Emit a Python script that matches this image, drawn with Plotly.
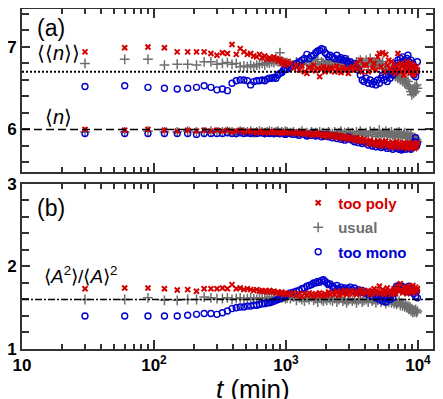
import plotly.graph_objects as go

# --- data ---
t_min = [30, 60, 90, 120, 150, 180, 210, 240, 270, 300,
         330, 360, 390, 420, 450, 480, 510, 540, 570, 600, 630, 660,
         690, 720, 750, 780, 810, 840, 870, 900, 930, 960, 990, 1020,
         1080, 1140, 1200, 1260, 1320, 1380, 1440, 1500, 1560, 1620,
         1680, 1740, 1800, 1860, 1920, 1980, 2040, 2100, 2160,
         2250, 2340, 2430, 2520, 2610, 2700, 2790, 2880, 2970, 3060,
         3180, 3300, 3420, 3540, 3660, 3780, 3900,
         4050, 4200, 4350, 4500, 4650, 4800, 4950, 5100, 5250, 5400,
         5550, 5700, 5850, 6000, 6150, 6300, 6450, 6600, 6750, 6900,
         7050, 7200, 7350, 7500, 7650, 7800, 7950, 8100, 8250, 8400,
         8550, 8700, 8850, 9000, 9150, 9300, 9450, 9600, 9750, 9900]

# <<n>>
nn_poly = [6.94, 6.99, 7.00, 6.99, 6.94, 6.94, 6.94, 6.94, 6.92, 6.90,
           6.93, 6.92, 7.03, 6.91, 6.98, 6.94, 6.91, 6.92, 6.89, 6.88, 6.91, 6.87,
           6.89, 6.85, 6.87, 6.85, 6.88, 6.86, 6.83, 6.85, 6.80, 6.83, 6.78, 6.82,
           6.80, 6.74, 6.78, 6.72, 6.77, 6.70, 6.68, 6.75, 6.72, 6.78,
           6.71, 6.74, 6.64, 6.73, 6.76, 6.70, 6.74, 6.71, 6.75,
           6.74, 6.70, 6.77, 6.72, 6.69, 6.75, 6.71, 6.73, 6.68, 6.74,
           6.76, 6.72, 6.80, 6.74, 6.84, 6.70, 6.78,
           6.78, 6.70, 6.84, 6.74, 6.80, 6.72, 6.88, 6.92, 6.76, 6.93,
           6.70, 6.91, 6.78, 6.84, 6.74, 6.82, 6.70, 6.76, 6.68, 6.78,
           6.92, 6.74, 6.80, 6.70, 6.76, 6.66, 6.78, 6.72, 6.82, 6.70,
           6.76, 6.68, 6.80, 6.72, 6.78, 6.66, 6.74, 6.70, 6.76, 6.72]
nn_usual = [6.80, 6.85, 6.85, 6.78, 6.79, 6.79, 6.78, 6.82, 6.82, 6.79,
            6.80, 6.81, 6.79, 6.80, 6.76, 6.77, 6.76, 6.78, 6.76, 6.78, 6.79, 6.80,
            6.78, 6.81, 6.80, 6.82, 6.81, 6.83, 6.82, 6.93, 6.80, 6.82, 6.79, 6.81,
            6.80, 6.78, 6.82, 6.76, 6.80, 6.84, 6.78, 6.81, 6.76, 6.83,
            6.79, 6.85, 6.77, 6.82, 6.80, 6.76, 6.84, 6.78, 6.81,
            6.79, 6.83, 6.77, 6.81, 6.85, 6.78, 6.82, 6.80, 6.84, 6.77,
            6.80, 6.76, 6.82, 6.78, 6.84, 6.79, 6.81,
            6.84, 6.78, 6.86, 6.80, 6.82, 6.76, 6.84, 6.80, 6.78, 6.82,
            6.74, 6.78, 6.72, 6.74, 6.68, 6.72, 6.66, 6.70, 6.64, 6.68,
            6.62, 6.66, 6.60, 6.64, 6.58, 6.62, 6.56, 6.60, 6.54, 6.58,
            6.52, 6.50, 6.46, 6.42, 6.48, 6.44, 6.52, 6.46, 6.54, 6.50]
nn_mono = [6.52, 6.53, 6.51, 6.50, 6.49, 6.50, 6.51, 6.53, 6.51, 6.48,
           6.49, 6.47, 6.56, 6.59, 6.60, 6.60, 6.59, 6.54, 6.58, 6.59, 6.59, 6.60,
           6.59, 6.61, 6.62, 6.62, 6.63, 6.62, 6.66, 6.68, 6.69, 6.72, 6.74, 6.73,
           6.75, 6.77, 6.80, 6.82, 6.84, 6.86, 6.91, 6.86, 6.89, 6.90,
           6.93, 6.95, 6.96, 6.98, 6.97, 6.93, 6.91, 6.88, 6.90,
           6.88, 6.86, 6.90, 6.85, 6.87, 6.84, 6.86, 6.83, 6.80, 6.82,
           6.78, 6.80, 6.75, 6.72, 6.66, 6.60, 6.58,
           6.62, 6.56, 6.60, 6.55, 6.58, 6.54, 6.60, 6.56, 6.62, 6.66,
           6.60, 6.64, 6.58, 6.66, 6.62, 6.70, 6.66, 6.74, 6.70, 6.80,
           6.84, 6.78, 6.86, 6.82, 6.88, 6.80, 6.84, 6.78, 6.86, 6.90,
           6.82, 6.76, 6.84, 6.72, 6.80, 6.66, 6.74, 6.64, 6.70, 6.82]

# <n>
n_poly = [6.00, 5.99, 6.00, 5.99, 5.98, 5.99, 5.98, 5.99, 5.98, 5.99,
          5.98, 5.99, 5.97, 5.98, 5.99, 5.97, 5.98, 5.97, 5.98, 5.96, 5.98, 5.97,
          5.96, 5.98, 5.97, 5.96, 5.97, 5.98, 5.96, 5.97, 5.95, 5.97, 5.96, 5.97,
          5.96, 5.95, 5.97, 5.95, 5.96, 5.94, 5.96, 5.95, 5.93, 5.95,
          5.94, 5.96, 5.93, 5.94, 5.92, 5.95, 5.93, 5.91, 5.94,
          5.92, 5.94, 5.90, 5.93, 5.91, 5.89, 5.92, 5.90, 5.88, 5.91,
          5.89, 5.87, 5.90, 5.86, 5.89, 5.85, 5.88,
          5.86, 5.83, 5.87, 5.82, 5.85, 5.81, 5.86, 5.83, 5.80, 5.85,
          5.82, 5.86, 5.80, 5.84, 5.81, 5.78, 5.84, 5.82, 5.79, 5.85,
          5.81, 5.83, 5.78, 5.82, 5.80, 5.84, 5.79, 5.82, 5.77, 5.81,
          5.84, 5.79, 5.82, 5.78, 5.83, 5.80, 5.77, 5.82, 5.79, 5.84]
n_usual = [5.97, 5.97, 5.98, 5.97, 5.97, 5.98, 5.97, 5.97, 5.98, 5.97,
           5.97, 5.98, 5.97, 5.96, 5.98, 5.97, 5.97, 5.98, 5.96, 5.97, 5.98, 5.97,
           5.96, 5.97, 5.98, 5.97, 5.96, 5.97, 5.98, 5.96, 5.97, 5.96, 5.98, 5.97,
           5.96, 5.97, 5.95, 5.96, 5.98, 5.95, 5.96, 5.94, 5.97, 5.95,
           5.96, 5.94, 5.97, 5.95, 5.96, 5.93, 5.95, 5.97, 5.94,
           5.95, 5.97, 5.94, 5.96, 5.98, 5.94, 5.96, 5.93, 5.97, 5.95,
           5.96, 5.93, 5.97, 5.94, 5.98, 5.95, 5.93,
           5.96, 5.92, 5.98, 5.94, 5.97, 5.91, 5.95, 5.99, 5.93, 5.96,
           5.92, 5.98, 5.94, 5.96, 5.91, 5.97, 5.93, 5.95, 5.90, 5.96,
           5.93, 5.97, 5.92, 5.95, 5.91, 5.94, 5.96, 5.90, 5.93, 5.95,
           5.89, 5.92, 5.94, 5.88, 5.91, 5.87, 5.90, 5.86, 5.88, 5.85]
n_mono = [5.95, 5.95, 5.95, 5.95, 5.95, 5.95, 5.94, 5.95, 5.95, 5.95,
          5.95, 5.96, 5.95, 5.95, 5.96, 5.95, 5.96, 5.95, 5.96, 5.95, 5.96, 5.96,
          5.95, 5.96, 5.95, 5.96, 5.95, 5.96, 5.95, 5.95, 5.96, 5.95, 5.94, 5.95,
          5.95, 5.94, 5.95, 5.93, 5.95, 5.94, 5.92, 5.94, 5.93, 5.95,
          5.92, 5.93, 5.94, 5.91, 5.93, 5.92, 5.94, 5.91, 5.92,
          5.90, 5.92, 5.89, 5.91, 5.88, 5.90, 5.87, 5.89, 5.91, 5.88,
          5.87, 5.85, 5.88, 5.84, 5.86, 5.83, 5.85,
          5.84, 5.81, 5.83, 5.80, 5.82, 5.79, 5.83, 5.80, 5.78, 5.82,
          5.79, 5.81, 5.77, 5.80, 5.78, 5.82, 5.76, 5.79, 5.81, 5.77,
          5.80, 5.76, 5.78, 5.75, 5.79, 5.77, 5.80, 5.76, 5.78, 5.81,
          5.77, 5.79, 5.76, 5.80, 5.78, 5.82, 5.85, 5.90, 5.80, 5.83]

# <A^2>/<A>^2
a_poly = [1.73, 1.74, 1.74, 1.73, 1.715, 1.72, 1.70, 1.73, 1.73, 1.73,
          1.74, 1.73, 1.78, 1.73, 1.74, 1.72, 1.73, 1.72, 1.71, 1.72, 1.70, 1.71,
          1.70, 1.69, 1.71, 1.69, 1.70, 1.68, 1.69, 1.67, 1.69, 1.66, 1.68, 1.67,
          1.66, 1.68, 1.65, 1.67, 1.64, 1.67, 1.65, 1.68, 1.66, 1.64,
          1.67, 1.65, 1.68, 1.66, 1.64, 1.67, 1.65, 1.69, 1.66,
          1.68, 1.66, 1.70, 1.65, 1.69, 1.67, 1.71, 1.66, 1.68, 1.70,
          1.67, 1.70, 1.66, 1.69, 1.72, 1.67, 1.70,
          1.68, 1.71, 1.66, 1.70, 1.73, 1.67, 1.70, 1.76, 1.68, 1.72,
          1.66, 1.70, 1.74, 1.68, 1.71, 1.66, 1.69, 1.73, 1.67, 1.71,
          1.76, 1.70, 1.79, 1.72, 1.68, 1.75, 1.70, 1.73, 1.67, 1.76,
          1.71, 1.69, 1.74, 1.70, 1.77, 1.72, 1.68, 1.75, 1.71, 1.73]
a_usual = [1.60, 1.60, 1.62, 1.59, 1.59, 1.60, 1.60, 1.63, 1.62, 1.61,
           1.61, 1.62, 1.60, 1.61, 1.62, 1.60, 1.61, 1.62, 1.61, 1.60, 1.62, 1.61,
           1.62, 1.61, 1.63, 1.62, 1.61, 1.63, 1.62, 1.64, 1.62, 1.63, 1.61, 1.62,
           1.61, 1.63, 1.59, 1.62, 1.60, 1.58, 1.62, 1.60, 1.63, 1.59,
           1.61, 1.57, 1.62, 1.60, 1.58, 1.61, 1.59, 1.62, 1.60,
           1.58, 1.61, 1.57, 1.60, 1.62, 1.58, 1.60, 1.56, 1.59, 1.61,
           1.58, 1.60, 1.56, 1.59, 1.61, 1.57, 1.59,
           1.60, 1.57, 1.61, 1.58, 1.60, 1.56, 1.59, 1.61, 1.57, 1.60,
           1.58, 1.55, 1.59, 1.57, 1.60, 1.56, 1.58, 1.55, 1.57, 1.54,
           1.56, 1.58, 1.53, 1.56, 1.52, 1.55, 1.51, 1.54, 1.50, 1.52,
           1.48, 1.51, 1.46, 1.49, 1.44, 1.47, 1.45, 1.48, 1.44, 1.46]
a_mono = [1.40, 1.40, 1.40, 1.40, 1.40, 1.41, 1.42, 1.43, 1.43, 1.42,
          1.44, 1.46, 1.49, 1.50, 1.51, 1.51, 1.52, 1.52, 1.53, 1.53, 1.54, 1.55,
          1.55, 1.56, 1.56, 1.57, 1.58, 1.59, 1.60, 1.61, 1.62, 1.63, 1.64, 1.66,
          1.68, 1.69, 1.70, 1.71, 1.73, 1.74, 1.76, 1.77, 1.78, 1.80,
          1.80, 1.82, 1.81, 1.83, 1.84, 1.82, 1.80, 1.78, 1.79,
          1.76, 1.74, 1.77, 1.73, 1.75, 1.72, 1.74, 1.71, 1.73, 1.75,
          1.72, 1.74, 1.70, 1.72, 1.69, 1.71, 1.68,
          1.68, 1.66, 1.69, 1.64, 1.67, 1.62, 1.65, 1.60, 1.64, 1.58,
          1.62, 1.57, 1.61, 1.64, 1.60, 1.66, 1.62, 1.68, 1.72, 1.76,
          1.74, 1.77, 1.73, 1.76, 1.72, 1.75, 1.71, 1.74, 1.70, 1.73,
          1.76, 1.71, 1.74, 1.69, 1.72, 1.67, 1.71, 1.64, 1.70, 1.62]

ref_nn = 6.7   # dotted line, panel (a)
ref_n = 6.0    # dashed line, panel (a)
ref_a = 1.6    # dash-dot line, panel (b)

# --- styles ---
RED = '#d40000'
GRAY = '#6e6e6e'
BLUE = '#0000d0'
FONT = 'Liberation Sans'
AX = '#333333'

series = [
    # (key, name, color, symbol, size, line width, legend rank)
    ('usual', 'usual', GRAY, 'cross-thin', 7, 1.5, 2),
    ('mono', 'too mono', BLUE, 'circle-open', 6, 1.4, 3),
    ('poly', 'too poly', RED, 'x-thin', 5, 2, 1),
]
top_data = {'poly': [nn_poly, n_poly], 'usual': [nn_usual, n_usual], 'mono': [nn_mono, n_mono]}
bot_data = {'poly': a_poly, 'usual': a_usual, 'mono': a_mono}

fig = go.Figure()

for key, name, col, sym, size, lw, rank in series:
    mk = dict(symbol=sym, size=size, color=col, line=dict(color=col, width=lw))
    for vals in top_data[key]:
        fig.add_trace(go.Scatter(x=t_min, y=vals, mode='markers', marker=mk,
                                 xaxis='x2', yaxis='y2', showlegend=False,
                                 legendgroup=key, hoverinfo='skip'))
    fig.add_trace(go.Scatter(
        x=t_min, y=bot_data[key], mode='markers', marker=mk,
        name=f'<span style="color:{col}"><b>{name}</b></span>',
        legendgroup=key, legendrank=rank, xaxis='x', yaxis='y', hoverinfo='skip'))

# reference lines
for yv, xr, yr, w, dash in [(ref_nn, 'x2 domain', 'y2', 2, '2px,2px'),
                            (ref_n, 'x2 domain', 'y2', 1.6, '8px,4px'),
                            (ref_a, 'x domain', 'y', 1.6, '7px,2px,2px,2px')]:
    fig.add_shape(type='line', x0=0, x1=1, y0=yv, y1=yv, xref=xr, yref=yr,
                  line=dict(color='black', width=w, dash=dash))

minor_x = dict(ticks='inside', ticklen=5, tickwidth=2, tickcolor=AX, dtick='D1')
xcommon = dict(type='log', range=[1, 4.114], showline=True, linecolor=AX, linewidth=2,
               mirror='allticks', ticks='inside', ticklen=9, tickwidth=2, tickcolor=AX,
               tickvals=[10, 100, 1000, 10000], showgrid=False, zeroline=False,
               minor=minor_x, automargin=False)
ycommon = dict(showline=True, linecolor=AX, linewidth=2, mirror='allticks',
               ticks='inside', ticklen=8, tickwidth=2, tickcolor=AX,
               showgrid=False, zeroline=False, automargin=False,
               minor=dict(ticks='inside', ticklen=7, tickwidth=2, tickcolor=AX, dtick=0.2),
               tickfont=dict(family=FONT, size=17, color='black', weight='bold'))

# the page body adds an 8px offset, so the figure is sized to the remaining window
fig.update_layout(
    width=435, height=391,
    margin=dict(l=14, r=10, t=1, b=50),
    paper_bgcolor='white', plot_bgcolor='white',
    font=dict(family=FONT, color='black'),
    xaxis=dict(**xcommon, anchor='y',
               ticktext=['10', '10<sup>2</sup>', '10<sup>3</sup>', '10<sup>4</sup>'],
               tickfont=dict(family=FONT, size=17, color='black', weight='bold')),
    xaxis2=dict(**xcommon, anchor='y2', matches='x', showticklabels=False),
    yaxis=dict(**ycommon, domain=[0, 0.4853], range=[1.0, 3.0], tickvals=[1, 2, 3], anchor='x'),
    yaxis2=dict(**ycommon, domain=[0.522, 1], range=[5.49, 7.46], tickvals=[6, 7], anchor='x2'),
    legend=dict(x=0.672, y=0.478, xanchor='left', yanchor='top', bgcolor='rgba(0,0,0,0)',
                font=dict(family=FONT, size=15), traceorder='grouped',
                tracegroupgap=2, itemwidth=30),
)

ann = [
    ('(a)', 0.031, 0.944, 23),
    ('\u27e8\u27e8<i>n</i>\u27e9\u27e9', 0.031, 0.871, 20),
    ('\u27e8<i>n</i>\u27e9', 0.05, 0.682, 20),
    ('(b)', 0.031, 0.415, 23),
    ('\u27e8<i>A</i><sup>2</sup>\u27e9/\u27e8<i>A</i>\u27e9<sup>2</sup>', 0.048, 0.218, 19),
    ('<i>t</i> (min)', 0.562, -0.117, 26),
]
for text, x, y, size in ann:
    xa = 'center' if text.startswith('<i>t') else 'left'
    fig.add_annotation(text=text, x=x, y=y, xref='paper', yref='paper', xanchor=xa,
                       yanchor='middle', showarrow=False, font=dict(family=FONT, size=size))

fig.write_html("out.html")
